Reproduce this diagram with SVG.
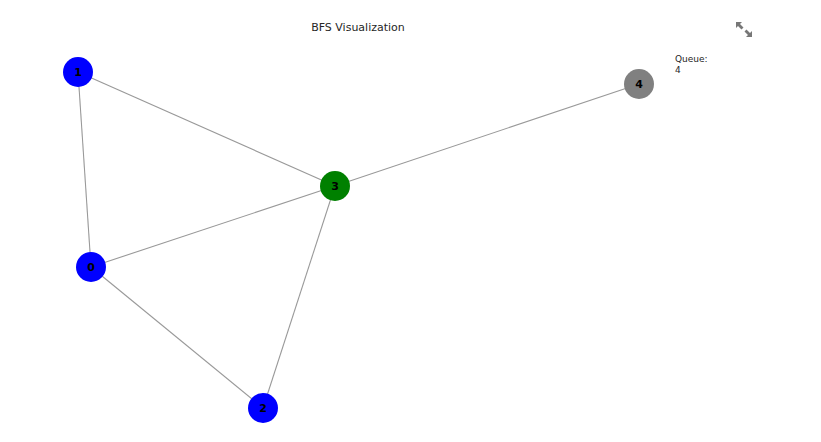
<svg xmlns="http://www.w3.org/2000/svg" width="821" height="442" viewBox="0 0 821 442">
<style>
.edge{stroke:#999;stroke-width:1.1;fill:none}
.node text{font-family:"DejaVu Sans",sans-serif;font-size:11px;font-weight:bold;fill:#000;text-anchor:middle;dominant-baseline:central}
.lbl{font-family:"DejaVu Sans",sans-serif;fill:#262626}
</style>
<rect width="821" height="442" fill="#fff"/>
<text class="lbl" x="358" y="31" font-size="11" text-anchor="middle">BFS Visualization</text>
<g id="connectors">
<line class="edge" x1="78" y1="72" x2="91" y2="267"/>
<line class="edge" x1="78" y1="72" x2="335" y2="186"/>
<line class="edge" x1="91" y1="267" x2="335" y2="186"/>
<line class="edge" x1="91" y1="267" x2="263" y2="408"/>
<line class="edge" x1="335" y1="186" x2="263" y2="408"/>
<line class="edge" x1="335" y1="186" x2="639" y2="84"/>
</g>
<g id="node-0" class="node"><circle cx="91" cy="267" r="15" fill="#0000ff"/><text x="91" y="267">0</text></g>
<g id="node-1" class="node"><circle cx="78" cy="72" r="15" fill="#0000ff"/><text x="78" y="72">1</text></g>
<g id="node-2" class="node"><circle cx="263" cy="408" r="15" fill="#0000ff"/><text x="263" y="408">2</text></g>
<g id="node-3" class="node"><circle cx="335" cy="186" r="15" fill="#008000"/><text x="335" y="186">3</text></g>
<g id="node-4" class="node"><circle cx="639" cy="84" r="15" fill="#808080"/><text x="639" y="84">4</text></g>
<text class="lbl" x="675" y="62" font-size="9">Queue:</text>
<text class="lbl" x="675" y="73" font-size="9">4</text>
<g id="expand-icon" fill="#777">
<polygon points="736,22 742,22 740,24 743.5,27.5 741.5,29.5 738,26 736,28"/>
<polygon points="752,37 746,37 748,35 744.5,31.5 746.5,29.5 750,33 752,31"/>
</g>
</svg>
